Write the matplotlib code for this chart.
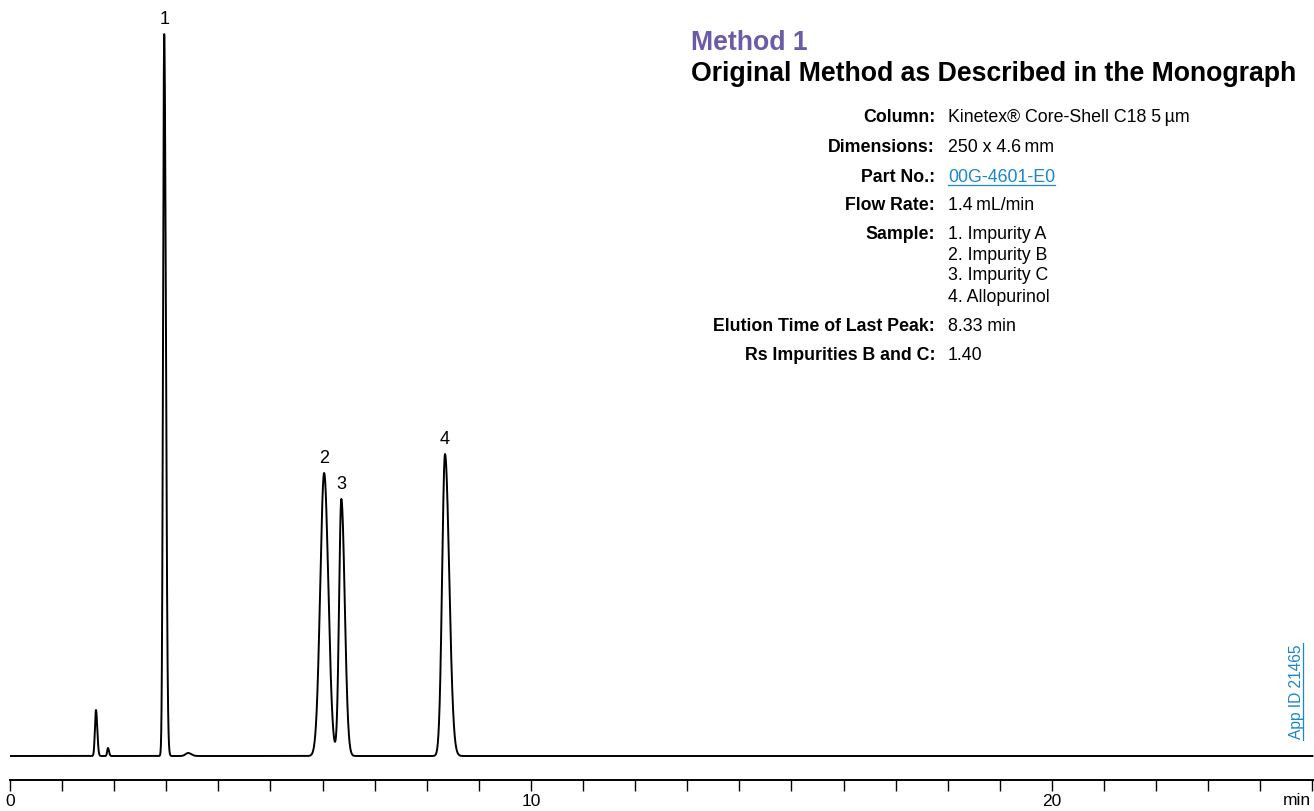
import numpy as np
import matplotlib
matplotlib.use("Agg")
import matplotlib.pyplot as plt

plt.rcParams["font.family"] = ["Liberation Sans", "DejaVu Sans"]

# peaks (time in min, height in detector units)
peak_times = [1.65, 1.88, 2.96, 3.42, 6.03, 6.36, 8.35]
peak_heights = [46, 8, 722, 3, 283, 257, 302]
peak_sigma_left = [0.020, 0.015, 0.022, 0.05, 0.075, 0.043, 0.055]
peak_sigma_right = [0.025, 0.020, 0.032, 0.06, 0.080, 0.065, 0.080]
peak_labels = ["", "", "1", "", "2", "3", "4"]

info_keys = ["Column:", "Dimensions:", "Part No.:", "Flow Rate:", "Sample:",
             "", "", "", "Elution Time of Last Peak:", "Rs Impurities B and C:"]
info_values = ["Kinetex® Core-Shell C18 5\u2009µm", "250 x 4.6\u2009mm", "00G-4601-E0",
               "1.4\u2009mL/min", "1. Impurity A", "2. Impurity B", "3. Impurity C",
               "4. Allopurinol", "8.33 min", "1.40"]
info_rows_y = [117, 147, 177, 206, 235, 255, 276, 297, 327, 356]   # pixel rows

BLUE = "#1b87cc"
PURPLE = "#6c5ba7"

t = np.linspace(0, 25, 12000)
signal = np.zeros_like(t)
for mu, h, sl, sr in zip(peak_times, peak_heights, peak_sigma_left, peak_sigma_right):
    s = np.where(t < mu, sl, sr)
    signal += h * np.exp(-0.5 * ((t - mu) / s) ** 2)

W, H = 1314, 812
fig = plt.figure(figsize=(W / 100, H / 100), dpi=100)
ax = fig.add_axes([10 / W, 31 / H, 1304 / W, 781 / H])
ax.plot(t, signal, color="black", lw=1.4)
ax.set_xlim(0, 25.03)
ax.set_ylim(-24, 757)

for s in ["top", "left", "right"]:
    ax.spines[s].set_visible(False)
ax.spines["bottom"].set_linewidth(1.4)
ax.set_yticks([])
ax.set_xticks(np.arange(0, 26, 1))
ax.set_xticklabels([str(v) if v in (0, 10, 20) else "" for v in range(26)])
ax.tick_params(axis="x", direction="out", length=8, width=1.0, labelsize=12.5, pad=1.5)

for mu, h, lab in zip(peak_times, peak_heights, peak_labels):
    if lab:
        ax.annotate(lab, (mu, h), xytext=(0, 5), textcoords="offset points",
                    ha="center", va="bottom", fontsize=13)


def fy(py):
    return 1 - py / H


fig.text(1 - 3 / W, fy(801), "min", ha="right", va="center", fontsize=12.5)

fig.text(691 / W, fy(43), "Method 1", color=PURPLE, fontsize=19.2, fontweight="bold",
         ha="left", va="center")
fig.text(691 / W, fy(74), "Original Method as Described in the Monograph",
         color="black", fontsize=19.2, fontweight="bold", ha="left", va="center")

for k, v, py in zip(info_keys, info_values, info_rows_y):
    if k:
        fig.text(935 / W, fy(py), k, fontsize=12.8, fontweight="bold", ha="right", va="center")
    if k == "Part No.:":
        fig.text(948 / W, fy(py), v, fontsize=12.8, ha="left", va="center", color=BLUE)
        fig.add_artist(plt.Line2D([948 / W, 1055 / W], [fy(py + 9), fy(py + 9)],
                                  color=BLUE, lw=0.9))
    else:
        fig.text(948 / W, fy(py), v, fontsize=12.8, ha="left", va="center")

fig.text(1296 / W, fy(692), "App ID 21465", color=BLUE, fontsize=11.2, rotation=90,
         ha="center", va="center")
fig.add_artist(plt.Line2D([1303 / W, 1303 / W], [fy(741), fy(644)], color=BLUE, lw=0.9))

fig.savefig("out.png", dpi=100)
